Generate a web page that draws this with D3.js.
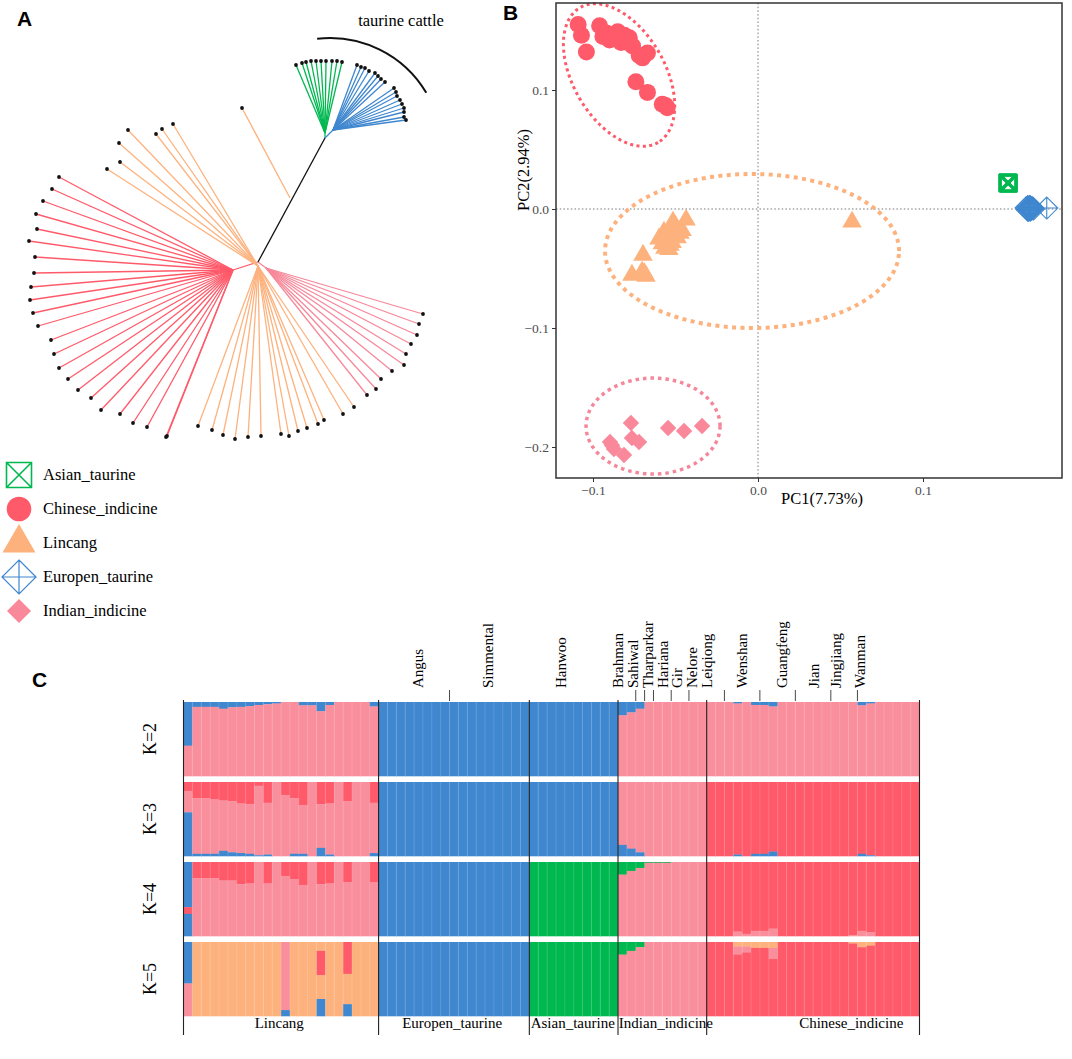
<!DOCTYPE html>
<html>
<head>
<meta charset="utf-8">
<script src="https://cdn.jsdelivr.net/npm/d3@7"></script>
<style>
body { margin: 0; background: #fff; }
svg { display: block; font-family: "Liberation Serif", "Times New Roman", serif; }
.panel { font-family: "Liberation Sans", Arial, sans-serif; font-weight: bold; font-size: 21px; }
</style>
</head>
<body>
<svg id="fig" width="1072" height="1059"></svg>
<script>
var colors = { g: "#00b850", r: "#ff5a6a", o: "#fdb27e", b: "#3f87cf", p: "#f98f9d" };

// ---------- panel A: tree, tips as offsets from the root (tree units) ----------
var redNode = [-25, 8];
var redTips = [[-199,-85],[-206,-73],[-215,-61],[-222,-48],[-221,-33],[-229,-21],[-223,-5],[-224,11],
  [-227,25],[-228,38],[-225,51],[-220,64],[-207,78],[-204,92],[-199,106],[-190,117],[-180,128],
  [-167,136],[-157,148],[-138,152],[-125,161],[-111,165],[-91,174],[-92,175]];
var orangeNode = [0, 4];
var orangeTips = [[-130,-132],[-139,-119],[-138,-100],[-151,-93],[-102,-128],[-96,-133],[-85,-138],
  [-60,164],[-46,168],[-35,173],[-23,177],[-10,175],[3,174],[23,172],[31,174],[40,169],[49,166],
  [60,162],[66,158],[85,152],[96,145]];
var orangeLone = [[32,-64],[-16,-154]];
var pinkNode = [8, 6];
var pinkTips = [[165,52],[161,62],[159,73],[153,82],[148,92],[146,103],[134,109],[123,117],[118,127],[109,133]];
var taurineNode = [67, -124];
var greenNode = [67, -129];
var greenTips = [[38,-197],[44,-199],[48,-200],[53,-201],[58,-201],[63,-201],[68,-201],[74,-201],[79,-201],[84,-200]];
var blueNode = [75, -132];
var blueTips = [[99,-197],[103,-195],[107,-194],[111,-191],[117,-189],[120,-186],[123,-183],[127,-180],
  [136,-174],[138,-170],[139,-166],[142,-162],[144,-158],[146,-154],[146,-150],[146,-145],[148,-142]];
var taurineArc = { centre: [72, -112], radius: 112, from: -96.6, to: -30.7 };

// ---------- panel B: PCA ----------
var chnPC = [[-0.109,0.155],[-0.107,0.146],[-0.104,0.132],[-0.096,0.154],[-0.094,0.145],[-0.092,0.148],
  [-0.090,0.142],[-0.088,0.145],[-0.085,0.149],[-0.083,0.140],[-0.082,0.144],[-0.081,0.146],[-0.078,0.144],
  [-0.076,0.137],[-0.070,0.127],[-0.067,0.131],[-0.074,0.107],[-0.067,0.098],[-0.058,0.088],[-0.055,0.085],
  [-0.086,0.143],[-0.079,0.140],[-0.072,0.129],[-0.056,0.087]];
var linPC = [[-0.0515,-0.0109],[-0.0436,-0.0092],[-0.0570,-0.0193],[-0.0521,-0.0193],[-0.0473,-0.0202],
  [-0.0545,-0.0261],[-0.0564,-0.0328],[-0.0697,-0.0387],[-0.0764,-0.0555],[-0.0703,-0.0529],[-0.0679,-0.0563],
  [0.0570,-0.0109],[-0.0533,-0.0303],[-0.0500,-0.0150],[-0.0555,-0.0230],[-0.0490,-0.0240],[-0.0580,-0.0290],
  [-0.0520,-0.0280],[-0.0690,-0.0540],[-0.0600,-0.0250],[-0.0460,-0.0180],[-0.0540,-0.0340]];
var indPC = [[-0.0770,-0.1798],[-0.0545,-0.1840],[-0.0448,-0.1866],[-0.0339,-0.1824],[-0.0764,-0.1924],
  [-0.0721,-0.1958],[-0.0897,-0.1958],[-0.0873,-0.2017],[-0.0812,-0.2067],[-0.0885,-0.1985]];
var eurPC = [[0.1625,0.001],[0.1630,0.000],[0.1635,0.002],[0.1640,-0.001],[0.1640,0.001],[0.1645,0.000],
  [0.1650,0.002],[0.1650,-0.001],[0.1655,0.001],[0.1660,0.000],[0.1665,0.001],[0.1670,0.000],
  [0.1635,-0.001],[0.1645,0.002],[0.1655,0.000],[0.1648,0.0005],[0.1750,0.0008]];
var asnPC = [[0.1512,0.0215],[0.1515,0.0220],[0.1518,0.0212],[0.1514,0.0225],[0.1516,0.0218],
  [0.1520,0.0222],[0.1511,0.0219],[0.1517,0.0214],[0.1513,0.0221],[0.1519,0.0217]];
// ellipse: centre, half-axis vector u, half-axis vector v (data units)
var chnEllipse = [[-0.0842,0.1126],[0.0236,-0.0567],[-0.0241,-0.0193]];
var linEllipse = [[-0.0036,-0.0353],[0.0891,0],[0,0.0647]];
var indEllipse = [[-0.0636,-0.1824],[0.0406,0],[0,0.0403]];
var pcTicks = [-0.2, -0.1, 0, 0.1];

var legendNames = ["Asian_taurine", "Chinese_indicine", "Lincang", "Europen_taurine", "Indian_indicine"];

// ---------- panel C: admixture ----------
var groupNames = ["Lincang", "Europen_taurine", "Asian_taurine", "Indian_indicine", "Chinese_indicine"];
var groupSizes = [22, 17, 10, 10, 24];
var groupLabelAt = [10.8, 30.3, 43.9, 54.4, 75.3];   // label centre, in columns
var breedNames = ["Angus","Simmental","Hanwoo","Brahman","Sahiwal","Tharparkar","Hariana","Gir","Nelore",
  "Leiqiong","Wenshan","Guangfeng","Jian","Jingjiang","Wanman"];
var breedSizes = [8, 9, 10, 2, 1, 1, 2, 2, 2, 2, 4, 4, 4, 3, 7];
var breedLabelAt = [26.4, 34.3, 42.5, 49.0, 50.7, 52.4, 54.1, 55.6, 57.3, 59.0, 63.0, 67.5, 71.1, 73.5, 76.3];
var kLabels = ["K=2", "K=3", "K=4", "K=5"];

var linK2Blue = [0.59,0.065,0.065,0.065,0.09,0.07,0.065,0.055,0.04,0.03,0.02,0,0,0.045,0.045,0.125,0.04,0,0,0,0,0.06];
var linK3Red = [0.12,0.22,0.22,0.23,0.25,0.26,0.29,0.30,0.05,0.28,0,0.18,0.22,0.31,0,0.30,0.29,0,0.26,0,0,0.28];
var linK3Blue = [0.59,0.03,0.03,0.03,0.07,0.05,0.04,0.03,0.01,0.02,0,0,0.03,0.03,0,0.11,0.02,0,0,0,0,0.04];
var linK4Red = [0,0.22,0.22,0.22,0.25,0.25,0.30,0.29,0,0.29,0,0.19,0.23,0.31,0,0.30,0.29,0,0.27,0,0,0.27];
var linK4Special = { 0: [["b",0.61],["r",0.09],["b",0.30]] };
var linK5Special = {
  0: [["b",0.56],["p",0.44]],
  11: [["p",0.92],["b",0.08]],
  15: [["o",0.12],["r",0.33],["o",0.32],["b",0.23]],
  18: [["r",0.43],["o",0.41],["b",0.16]]
};
var indK2Blue = [0.18,0.14,0.09,0,0,0,0,0,0,0];
var indK3Blue = [0.15,0.10,0.05,0,0,0,0,0,0,0];
var indK4Green = [0.17,0.12,0.08,0.01,0.01,0.01,0,0,0,0];
var indK5Green = [0.17,0.12,0.07,0,0,0,0,0,0,0];
var chnK2Blue = [0,0,0,0.02,0,0.04,0.04,0.06,0,0,0,0,0,0,0,0,0,0.045,0.02,0,0,0,0,0];
var chnK3Blue = [0,0,0,0.02,0,0.03,0.03,0.06,0,0,0,0,0,0,0,0,0,0.03,0.01,0,0,0,0,0];
var chnK4Pink = [0,0,0,0.06,0.03,0.07,0.07,0.10,0,0,0,0,0,0,0,0,0.01,0.07,0.05,0,0,0,0,0];
var chnK5Orange = [0,0,0,0.06,0.06,0.08,0.08,0.08,0,0,0,0,0,0,0,0,0.02,0.07,0.05,0,0,0,0,0];
var chnK5Pink = [0,0,0,0.11,0.08,0,0,0.15,0,0,0,0,0,0,0,0,0,0,0,0,0,0,0,0];

var svg = d3.select("#fig");

// ================= A =================
svg.append("text").attr("class", "panel").attr("x", 17).attr("y", 26).text("A");

var tx = d3.scaleLinear().domain([-230, 190]).range([28, 448]);
var ty = d3.scaleLinear().domain([-262, 200]).range([0, 462]);

var edges = [];
function fan(node, tips, c) {
  tips.forEach(function (t) { edges.push({ a: node, b: t, c: c }); });
}
edges.push({ a: [0, 0], b: redNode, c: colors.r });
fan(redNode, redTips, colors.r);
fan(orangeNode, orangeTips, colors.o);
edges.push({ a: orangeLone[0], b: orangeLone[1], c: colors.o });
edges.push({ a: [0, 0], b: pinkNode, c: "#f7889a" });
fan(pinkNode, pinkTips, "#f7889a");
edges.push({ a: taurineNode, b: greenNode, c: colors.g });
fan(greenNode, greenTips, colors.g);
edges.push({ a: taurineNode, b: blueNode, c: colors.b });
fan(blueNode, blueTips, colors.b);
edges.push({ a: [0, 0], b: taurineNode, c: "#111" });

var gA = svg.append("g");
gA.selectAll("line.edge").data(edges).join("line")
  .attr("class", "edge")
  .attr("x1", function (d) { return tx(d.a[0]); })
  .attr("y1", function (d) { return ty(d.a[1]); })
  .attr("x2", function (d) { return tx(d.b[0]); })
  .attr("y2", function (d) { return ty(d.b[1]); })
  .attr("stroke", function (d) { return d.c; })
  .attr("stroke-width", 1.3);

var allTips = redTips.concat(orangeTips, [orangeLone[1]], pinkTips, greenTips, blueTips);
gA.selectAll("circle.tip").data(allTips).join("circle")
  .attr("class", "tip")
  .attr("cx", function (d) { return tx(d[0]); })
  .attr("cy", function (d) { return ty(d[1]); })
  .attr("r", 1.9)
  .attr("fill", "#111");

var arcPath = d3.path();
arcPath.arc(tx(taurineArc.centre[0]), ty(taurineArc.centre[1]), taurineArc.radius,
  taurineArc.from * Math.PI / 180, taurineArc.to * Math.PI / 180);
gA.append("path").attr("d", arcPath.toString()).attr("fill", "none")
  .attr("stroke", "#111").attr("stroke-width", 2);
gA.append("text").attr("x", 401).attr("y", 26).attr("text-anchor", "middle")
  .attr("font-size", 16.5).text("taurine cattle");

// marker shapes
function diamondPath(h) { return "M0," + (-h) + "L" + h + ",0L0," + h + "L" + (-h) + ",0Z"; }
function crossDiamondPath(h) {
  return diamondPath(h) + "M0," + (-h) + "L0," + h + "M" + (-h) + ",0L" + h + ",0";
}
function boxXPath(h) {
  return "M" + (-h) + "," + (-h) + "H" + h + "V" + h + "H" + (-h) + "Z" +
    "M" + (-h) + "," + (-h) + "L" + h + "," + h + "M" + h + "," + (-h) + "L" + (-h) + "," + h;
}
function triPath(side) { return d3.symbol(d3.symbolTriangle, side * side * Math.sqrt(3) / 4)(); }
function circlePath(r) { return d3.symbol(d3.symbolCircle, Math.PI * r * r)(); }

var markerStyle = {
  Asian_taurine: function (s) { return { d: boxXPath(s ? 12.5 : 8), fill: "none", stroke: colors.g, sw: s ? 1.6 : 1.8 }; },
  Chinese_indicine: function (s) { return { d: circlePath(s ? 12.3 : 8.5), fill: colors.r, stroke: "none", sw: 0 }; },
  Lincang: function (s) { return { d: triPath(s ? 33 : 19.5), fill: colors.o, stroke: "none", sw: 0 }; },
  Europen_taurine: function (s) { return { d: crossDiamondPath(s ? 17 : 11), fill: "none", stroke: colors.b, sw: s ? 1.2 : 1.1 }; },
  Indian_indicine: function (s) { return { d: diamondPath(s ? 12 : 8.2), fill: "#f8889a", stroke: "none", sw: 0 }; }
};

// legend
var legY = d3.scalePoint().domain(legendNames).range([475, 611]);
var leg = svg.append("g");
legendNames.forEach(function (n) {
  var m = markerStyle[n](true);
  leg.append("path").attr("transform", "translate(19," + legY(n) + ")")
    .attr("d", m.d).attr("fill", m.fill).attr("stroke", m.stroke).attr("stroke-width", m.sw);
  leg.append("text").attr("x", 43).attr("y", legY(n)).attr("dy", "0.33em")
    .attr("font-size", 16.5).text(n);
});

// ================= B =================
svg.append("text").attr("class", "panel").attr("x", 503).attr("y", 20).text("B");

var px = d3.scaleLinear().domain([-0.1, 0.1]).range([593, 923]);
var py = d3.scaleLinear().domain([-0.2, 0.1]).range([447, 90]);
var frame = { x0: 556, x1: 1062, y0: 3, y1: 478 };
var gB = svg.append("g");

gB.append("line").attr("x1", px(0)).attr("x2", px(0)).attr("y1", frame.y0).attr("y2", frame.y1)
  .attr("stroke", "#777").attr("stroke-dasharray", "1.5,2.2");
gB.append("line").attr("y1", py(0)).attr("y2", py(0)).attr("x1", frame.x0).attr("x2", frame.x1)
  .attr("stroke", "#777").attr("stroke-dasharray", "1.5,2.2");

var ellipseStyle = [
  { e: chnEllipse, c: "#ff5a6a", w: 3, dash: "3,3.4" },
  { e: linEllipse, c: "#fdb27e", w: 4, dash: "4,4.4" },
  { e: indEllipse, c: "#f4879a", w: 3.5, dash: "3.5,4" }
];
var line = d3.line().x(function (d) { return px(d[0]); }).y(function (d) { return py(d[1]); });
ellipseStyle.forEach(function (s) {
  var pts = d3.range(0, 201).map(function (i) {
    var t = i / 200 * 2 * Math.PI;
    return [s.e[0][0] + s.e[1][0] * Math.cos(t) + s.e[2][0] * Math.sin(t),
            s.e[0][1] + s.e[1][1] * Math.cos(t) + s.e[2][1] * Math.sin(t)];
  });
  gB.append("path").attr("d", line(pts)).attr("fill", "none")
    .attr("stroke", s.c).attr("stroke-width", s.w).attr("stroke-dasharray", s.dash);
});

var pcSets = [
  { n: "Lincang", pts: linPC },
  { n: "Indian_indicine", pts: indPC },
  { n: "Chinese_indicine", pts: chnPC },
  { n: "Asian_taurine", pts: asnPC },
  { n: "Europen_taurine", pts: eurPC }
];
pcSets.forEach(function (set) {
  var m = markerStyle[set.n](false);
  gB.selectAll(null).data(set.pts).join("path")
    .attr("transform", function (d) { return "translate(" + px(d[0]) + "," + py(d[1]) + ")"; })
    .attr("d", m.d).attr("fill", m.fill).attr("stroke", m.stroke).attr("stroke-width", m.sw);
});

gB.append("rect").attr("x", frame.x0).attr("y", frame.y0)
  .attr("width", frame.x1 - frame.x0).attr("height", frame.y1 - frame.y0)
  .attr("fill", "none").attr("stroke", "#333").attr("stroke-width", 1.5);

var fmt = d3.format(".1f");
var yAxis = gB.append("g").attr("transform", "translate(" + frame.x0 + ",0)")
  .call(d3.axisLeft(py).tickValues(pcTicks).tickSize(4).tickPadding(3).tickFormat(fmt));
var xAxis = gB.append("g").attr("transform", "translate(0," + frame.y1 + ")")
  .call(d3.axisBottom(px).tickValues([-0.1, 0, 0.1]).tickSize(4).tickPadding(3).tickFormat(fmt));
[yAxis, xAxis].forEach(function (ax) {
  ax.select(".domain").remove();
  ax.selectAll(".tick line").attr("stroke", "#333");
  ax.selectAll(".tick text").attr("fill", "#4d4d4d").attr("font-size", 13.5)
    .attr("font-family", '"Liberation Serif", "Times New Roman", serif');
});
gB.append("text").attr("x", 822).attr("y", 504).attr("text-anchor", "middle")
  .attr("font-size", 16.5).text("PC1(7.73%)");
gB.append("text").attr("transform", "translate(529,170) rotate(-90)").attr("text-anchor", "middle")
  .attr("font-size", 16.5).text("PC2(2.94%)");

// ================= C =================
svg.append("text").attr("class", "panel").attr("x", 32).attr("y", 687).text("C");

var nCols = d3.sum(groupSizes);
var xs = d3.scaleLinear().domain([0, nCols]).range([183.5, 919.5]);
var yk = d3.scaleBand().domain(kLabels).range([702, 1016]).paddingInner(0.075);

function complete(segs) {
  var known = d3.sum(segs, function (s) { return s[1] == null ? 0 : s[1]; });
  return segs.map(function (s) { return [s[0], s[1] == null ? 1 - known : s[1]]; })
    .filter(function (s) { return s[1] > 0; });
}
function columnSegs(k, g, j) {
  if (g === 0) {
    if (k === 0) return [["b", linK2Blue[j]], ["p", null]];
    if (k === 1) return [["r", linK3Red[j]], ["p", null], ["b", linK3Blue[j]]];
    if (k === 2) return linK4Special[j] || [["r", linK4Red[j]], ["p", null]];
    return linK5Special[j] || [["o", null]];
  }
  if (g === 1) return [["b", null]];
  if (g === 2) return [[k < 2 ? "b" : "g", null]];
  if (g === 3) {
    if (k === 0) return [["b", indK2Blue[j]], ["p", null]];
    if (k === 1) return [["p", null], ["b", indK3Blue[j]]];
    if (k === 2) return [["g", indK4Green[j]], ["p", null]];
    return [["g", indK5Green[j]], ["p", null]];
  }
  if (k === 0) return [["b", chnK2Blue[j]], ["p", null]];
  if (k === 1) return [["r", null], ["b", chnK3Blue[j]]];
  if (k === 2) return [["r", null], ["p", chnK4Pink[j]]];
  return [["o", chnK5Orange[j]], ["p", chnK5Pink[j]], ["r", null]];
}

var groupStart = [0];
groupSizes.forEach(function (s, i) { groupStart.push(groupStart[i] + s); });

var cells = [];
kLabels.forEach(function (kl, k) {
  var col = 0;
  groupSizes.forEach(function (size, g) {
    for (var j = 0; j < size; j++, col++) {
      var acc = 0;
      complete(columnSegs(k, g, j)).forEach(function (s) {
        cells.push({ k: kl, col: col, c: s[0], y0: acc, y1: acc + s[1] });
        acc += s[1];
      });
    }
  });
});

var gC = svg.append("g");
gC.selectAll("rect.cell").data(cells).join("rect")
  .attr("class", "cell")
  .attr("x", function (d) { return xs(d.col); })
  .attr("width", xs(1) - xs(0) + 0.3)
  .attr("y", function (d) { return yk(d.k) + d.y0 * yk.bandwidth(); })
  .attr("height", function (d) { return (d.y1 - d.y0) * yk.bandwidth() + 0.3; })
  .attr("fill", function (d) { return colors[d.c]; });

// faint column borders
var colEdges = d3.range(1, nCols);
kLabels.forEach(function (kl) {
  gC.selectAll(null).data(colEdges).join("line")
    .attr("x1", function (d) { return xs(d); }).attr("x2", function (d) { return xs(d); })
    .attr("y1", yk(kl)).attr("y2", yk(kl) + yk.bandwidth())
    .attr("stroke", "#fff").attr("stroke-opacity", 0.22).attr("stroke-width", 0.7);
});

// group separators
gC.selectAll("line.sep").data(groupStart).join("line")
  .attr("class", "sep")
  .attr("x1", function (d) { return xs(d); }).attr("x2", function (d) { return xs(d); })
  .attr("y1", 700).attr("y2", 1035)
  .attr("stroke", "#222").attr("stroke-width", 1.1);

// breed ticks and labels
var breedStart = [groupStart[1]];
breedSizes.forEach(function (s, i) { breedStart.push(breedStart[i] + s); });
var breedTicks = breedStart.slice(1, -1).filter(function (b) { return groupStart.indexOf(b) < 0; });
gC.selectAll("line.btick").data(breedTicks).join("line")
  .attr("class", "btick")
  .attr("x1", function (d) { return xs(d); }).attr("x2", function (d) { return xs(d); })
  .attr("y1", 690).attr("y2", 701).attr("stroke", "#333").attr("stroke-width", 0.9);
gC.selectAll("text.breed").data(breedNames).join("text")
  .attr("class", "breed")
  .attr("transform", function (d, i) {
    return "translate(" + xs(breedLabelAt[i]) + ",688) rotate(-90)";
  })
  .attr("dy", "0.35em").attr("font-size", 15).text(function (d) { return d; });

// group labels
gC.selectAll("text.group").data(groupNames).join("text")
  .attr("class", "group")
  .attr("x", function (d, i) { return xs(groupLabelAt[i]); })
  .attr("y", 1028).attr("text-anchor", "middle").attr("font-size", 15)
  .text(function (d) { return d; });

// K labels
gC.selectAll("text.k").data(kLabels).join("text")
  .attr("class", "k")
  .attr("transform", function (d) { return "translate(150," + (yk(d) + yk.bandwidth() / 2) + ") rotate(-90)"; })
  .attr("text-anchor", "middle").attr("dy", "0.35em").attr("font-size", 18)
  .text(function (d) { return d; });
</script>
</body>
</html>
